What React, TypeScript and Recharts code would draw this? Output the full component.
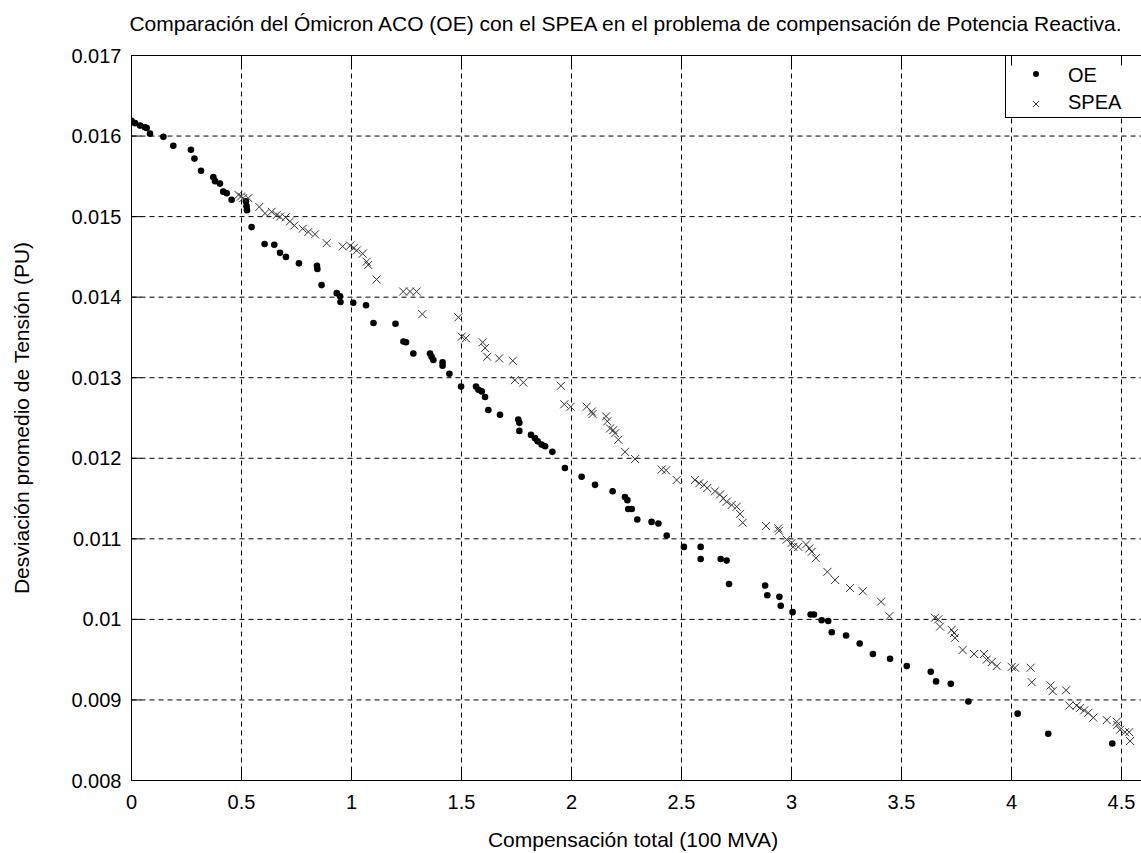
import React from 'react';
import { ScatterChart, Scatter, XAxis, YAxis, CartesianGrid } from 'recharts';

// Ómicron ACO (OE) front
const oeX = [
  0.0, 0.016, 0.039, 0.061, 0.069, 0.084, 0.145, 0.19, 0.27, 0.286, 0.316, 0.372, 0.38, 0.402, 0.417, 0.433,
  0.455, 0.52, 0.523, 0.525, 0.546, 0.605, 0.649, 0.675, 0.702, 0.761, 0.843, 0.845, 0.864, 0.933, 0.948, 0.95,
  1.008, 1.066, 1.1, 1.2, 1.236, 1.248, 1.281, 1.357, 1.364, 1.372, 1.414, 1.414, 1.445, 1.498, 1.566, 1.577,
  1.592, 1.607, 1.622, 1.675, 1.758, 1.763, 1.763, 1.816, 1.834, 1.846, 1.864, 1.88, 1.913, 1.97, 2.046, 2.107,
  2.187, 2.243, 2.254, 2.258, 2.274, 2.299, 2.364, 2.395, 2.433, 2.511, 2.587, 2.587, 2.678, 2.705, 2.716, 2.88,
  2.89, 2.945, 2.951, 3.005, 3.087, 3.102, 3.137, 3.167, 3.183, 3.248, 3.31, 3.37, 3.448, 3.524, 3.633, 3.657,
  3.724, 3.804, 4.028, 4.167, 4.458,
];
const oeY = [
  0.01619, 0.01616, 0.01613, 0.01611, 0.0161, 0.01603, 0.01599, 0.01588, 0.01583, 0.01572, 0.01557, 0.01549,
  0.01544, 0.01541, 0.01531, 0.01529, 0.01521, 0.01519, 0.01513, 0.01508, 0.01487, 0.01466, 0.01465, 0.01455,
  0.0145, 0.01442, 0.01439, 0.01435, 0.01415, 0.01405, 0.01401, 0.01394, 0.01393, 0.0139, 0.01368, 0.01367,
  0.01345, 0.01344, 0.0133, 0.0133, 0.01326, 0.01322, 0.01319, 0.01315, 0.01305, 0.01289, 0.01289, 0.01285,
  0.01283, 0.01276, 0.0126, 0.01254, 0.01248, 0.01244, 0.01234, 0.01229, 0.01225, 0.01221, 0.01217, 0.01215,
  0.01208, 0.01188, 0.01177, 0.01167, 0.01159, 0.01152, 0.01148, 0.01137, 0.01137, 0.01124, 0.01121, 0.01119,
  0.01104, 0.0109, 0.0109, 0.01075, 0.01075, 0.01073, 0.01044, 0.01042, 0.0103, 0.01028, 0.01017, 0.01009,
  0.01006, 0.01006, 0.00999, 0.00998, 0.00984, 0.0098, 0.0097, 0.00957, 0.00951, 0.00942, 0.00935, 0.00923,
  0.0092, 0.00898, 0.00883, 0.00858, 0.00846,
];

// SPEA front
const speaX = [
  0.486, 0.498, 0.508, 0.531, 0.581, 0.607, 0.637, 0.66, 0.675, 0.7, 0.72, 0.74, 0.778, 0.804, 0.834, 0.887,
  0.96, 0.994, 1.01, 1.024, 1.051, 1.069, 1.076, 1.114, 1.235, 1.266, 1.296, 1.322, 1.486, 1.501, 1.52, 1.596,
  1.607, 1.617, 1.671, 1.733, 1.743, 1.781, 1.952, 1.967, 1.996, 2.069, 2.092, 2.096, 2.157, 2.163, 2.175, 2.19,
  2.198, 2.213, 2.243, 2.289, 2.41, 2.43, 2.478, 2.561, 2.581, 2.602, 2.617, 2.652, 2.675, 2.69, 2.705, 2.728,
  2.751, 2.766, 2.778, 2.884, 2.94, 2.943, 2.978, 3.001, 3.008, 3.031, 3.066, 3.081, 3.092, 3.111, 3.163, 3.198,
  3.266, 3.324, 3.407, 3.445, 3.652, 3.667, 3.675, 3.728, 3.739, 3.743, 3.778, 3.83, 3.875, 3.887, 3.91, 3.933,
  4.001, 4.016, 4.087, 4.092, 4.178, 4.187, 4.248, 4.263, 4.296, 4.311, 4.33, 4.349, 4.372, 4.433, 4.478, 4.481,
  4.493, 4.516, 4.535, 4.539,
];
const speaY = [
  0.01527, 0.01525, 0.01523, 0.01523, 0.01512, 0.01504, 0.01506, 0.01502, 0.015, 0.01499, 0.01494, 0.01489,
  0.01485, 0.01481, 0.01478, 0.01467, 0.01463, 0.01464, 0.01461, 0.01458, 0.01454, 0.01444, 0.0144, 0.01422,
  0.01407, 0.01407, 0.01407, 0.01379, 0.01375, 0.01351, 0.01349, 0.01344, 0.01337, 0.01326, 0.01324, 0.01321,
  0.01297, 0.01294, 0.0129, 0.01267, 0.01264, 0.01264, 0.01258, 0.01255, 0.01252, 0.01246, 0.01237, 0.01235,
  0.01231, 0.01223, 0.01208, 0.01199, 0.01186, 0.01185, 0.01173, 0.01173, 0.01169, 0.01167, 0.01163, 0.01159,
  0.01155, 0.0115, 0.01146, 0.01142, 0.0114, 0.01131, 0.0112, 0.01116, 0.01113, 0.0111, 0.01099, 0.01095,
  0.0109, 0.0109, 0.01093, 0.01088, 0.01084, 0.01076, 0.01059, 0.01049, 0.01039, 0.01035, 0.01022, 0.01004,
  0.01002, 0.01, 0.00991, 0.00987, 0.00983, 0.00977, 0.00962, 0.00957, 0.00957, 0.0095, 0.00947, 0.00942,
  0.00941, 0.0094, 0.0094, 0.00922, 0.00918, 0.00911, 0.00912, 0.00893, 0.00893, 0.0089, 0.00887, 0.00884,
  0.00878, 0.00875, 0.00873, 0.00869, 0.00863, 0.0086, 0.0086, 0.00849,
];

const xTicks = [0, 0.5, 1, 1.5, 2, 2.5, 3, 3.5, 4, 4.5];
const yTicks = [0.008, 0.009, 0.01, 0.011, 0.012, 0.013, 0.014, 0.015, 0.016, 0.017];

const oeData = oeX.map((x, i) => ({ x, y: oeY[i] }));
const speaData = speaX.map((x, i) => ({ x, y: speaY[i] }));

const FONT = '"Liberation Sans", Arial, Helvetica, sans-serif';
const TICK_LEN = 10;

const fmt = (v: number) => String(Number(v.toFixed(3)));

const Dot = ({ cx, cy }: any) => <circle cx={cx} cy={cy} r={3.3} fill="#000" />;
const Cross = ({ cx, cy }: any) => (
  <path d={`M${cx - 4},${cy - 4}L${cx + 4},${cy + 4}M${cx - 4},${cy + 4}L${cx + 4},${cy - 4}`} stroke="#333" strokeWidth={1} fill="none" />
);

// bottom ticks point inward (up), labels below
const BottomTick = ({ x, y, payload }: any) => (
  <g>
    <line x1={x} x2={x} y1={y} y2={y - TICK_LEN} stroke="#000" />
    <text x={x} y={y + 28} textAnchor="middle" fontSize={20} fontFamily={FONT} fill="#000">
      {fmt(payload.value)}
    </text>
  </g>
);
const TopTick = ({ x, y }: any) => <line x1={x} x2={x} y1={y} y2={y + TICK_LEN} stroke="#000" />;
const LeftTick = ({ x, y, payload }: any) => (
  <g>
    <line x1={x} x2={x + TICK_LEN} y1={y} y2={y} stroke="#000" />
    <text x={x - 10} y={y + 7} textAnchor="end" fontSize={20} fontFamily={FONT} fill="#000">
      {fmt(payload.value)}
    </text>
  </g>
);

export default function App() {
  return (
    <div style={{ position: 'absolute', left: 0, top: 0, width: 1141, height: 853, overflow: 'hidden', background: '#fff' }}>
      <ScatterChart width={1150} height={853} margin={{ top: 45.5, right: 6.5, bottom: 32.5, left: 0 }}>
        <CartesianGrid stroke="#000" strokeDasharray="5 4" />
        <XAxis
          type="number"
          dataKey="x"
          domain={[0, 4.6]}
          ticks={xTicks}
          height={40}
          tickSize={0}
          tickMargin={0}
          tick={<BottomTick />}
          axisLine={{ stroke: '#000' }}
          tickLine={false}
          interval={0}
          allowDataOverflow
        />
        <XAxis
          xAxisId="top"
          orientation="top"
          type="number"
          dataKey="x"
          domain={[0, 4.6]}
          ticks={xTicks}
          height={10}
          tickSize={0}
          tickMargin={0}
          tick={<TopTick />}
          axisLine={{ stroke: '#000' }}
          tickLine={false}
          interval={0}
          allowDataOverflow
        />
        <YAxis
          type="number"
          dataKey="y"
          domain={[0.008, 0.017]}
          ticks={yTicks}
          width={131.5}
          tickSize={0}
          tickMargin={0}
          tick={<LeftTick />}
          axisLine={{ stroke: '#000' }}
          tickLine={false}
          interval={0}
          allowDataOverflow
        />
        <Scatter name="OE" data={oeData} shape={<Dot />} isAnimationActive={false} />
        <Scatter name="SPEA" data={speaData} shape={<Cross />} isAnimationActive={false} />

        <text x={625.5} y={30.5} textAnchor="middle" fontSize={21} fontFamily={FONT} fill="#000">
          Comparación del Ómicron ACO (OE) con el SPEA en el problema de compensación de Potencia Reactiva.
        </text>
        <text x={633} y={847} textAnchor="middle" fontSize={21} fontFamily={FONT} fill="#000">
          Compensación total (100 MVA)
        </text>
        <text
          x={0}
          y={0}
          transform="translate(29,418) rotate(-90)"
          textAnchor="middle"
          fontSize={21}
          fontFamily={FONT}
          fill="#000"
        >
          Desviación promedio de Tensión (PU)
        </text>

        <g>
          <rect x={1005.5} y={55.5} width={160} height={62} fill="#fff" stroke="#000" />
          <circle cx={1036} cy={74} r={3} fill="#000" />
          <text x={1068} y={82} fontSize={20} fontFamily={FONT} fill="#000">OE</text>
          <path d="M1033,101L1039,107M1033,107L1039,101" stroke="#333" fill="none" />
          <text x={1068} y={109} fontSize={20} fontFamily={FONT} fill="#000">SPEA</text>
        </g>
      </ScatterChart>
    </div>
  );
}
